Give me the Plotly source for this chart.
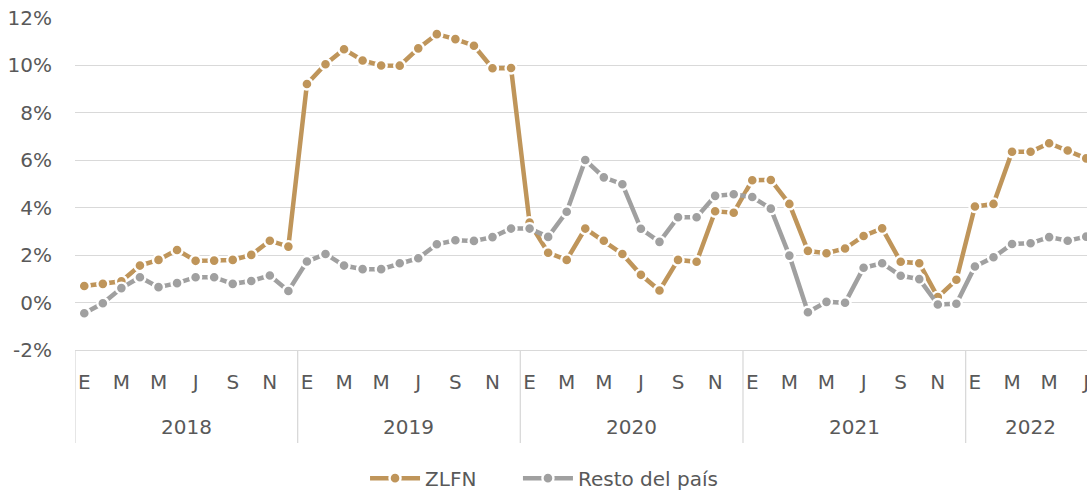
import plotly.graph_objects as go

years = ["2018", "2019", "2020", "2021", "2022"]
month_letters = ["E", "F", "M", "A", "M", "J", "J", "A", "S", "O", "N", "D"]
months_per_year = [12, 12, 12, 12, 7]

zlfn = [0.70, 0.79, 0.90, 1.56, 1.80, 2.22, 1.76, 1.77, 1.80, 2.01, 2.61, 2.36,
        9.22, 10.05, 10.68, 10.21, 10.00, 9.99, 10.72, 11.32, 11.11, 10.83, 9.88, 9.89,
        3.37, 2.10, 1.80, 3.12, 2.61, 2.05, 1.17, 0.51, 1.80, 1.72, 3.85, 3.79,
        5.16, 5.17, 4.16, 2.18, 2.08, 2.28, 2.81, 3.13, 1.72, 1.66, 0.23, 0.96,
        4.05, 4.16, 6.36, 6.36, 6.72, 6.41, 6.08]

resto = [-0.45, -0.03, 0.61, 1.07, 0.65, 0.82, 1.07, 1.07, 0.79, 0.91, 1.14, 0.49,
         1.73, 2.05, 1.56, 1.41, 1.41, 1.66, 1.87, 2.46, 2.63, 2.60, 2.76, 3.12,
         3.12, 2.77, 3.83, 6.01, 5.28, 4.99, 3.11, 2.56, 3.60, 3.60, 4.50, 4.57,
         4.45, 3.96, 1.98, -0.41, 0.03, -0.01, 1.47, 1.66, 1.13, 0.99, -0.08, -0.05,
         1.52, 1.91, 2.47, 2.50, 2.76, 2.61, 2.78]

y_ticks = [-2, 0, 2, 4, 6, 8, 10, 12]
y_tick_text = ["-2%", "0%", "2%", "4%", "6%", "8%", "10%", "12%"]

GOLD = "#BF955A"
GRAY = "#A0A0A0"
TEXT = "#595959"
GRID = "#D9D9D9"
FONT = "DejaVu Sans"

n = len(zlfn)
x_idx = list(range(n))
tick_vals = [i for i in x_idx if i % 2 == 0]
tick_text = [month_letters[i % 12] for i in tick_vals]

fig = go.Figure()
for name, vals, col, leg in [("ZLFN", zlfn, GOLD, "legend"),
                             ("Resto del país", resto, GRAY, "legend2")]:
    fig.add_trace(go.Scatter(
        x=x_idx, y=vals, name=name, mode="lines+markers", legend=leg,
        line=dict(color=col, width=4.5),
        marker=dict(color=col, size=11, line=dict(color="white", width=2.4)),
    ))

# year boundaries and labels
starts = []
s = 0
for m in months_per_year:
    starts.append(s)
    s += m
for yr, st, m in zip(years, starts, months_per_year):
    fig.add_shape(type="line", xref="x", yref="paper",
                  x0=st - 0.5, x1=st - 0.5, y0=0, y1=-0.28,
                  line=dict(color=GRID, width=1.3))
    fig.add_annotation(x=st - 0.5 + m / 2, y=-0.232, xref="x", yref="paper",
                       text=yr, showarrow=False, yanchor="middle",
                       font=dict(family=FONT, size=20, color=TEXT))

legend_common = dict(orientation="h", xanchor="left", y=-0.386, yanchor="middle",
                     font=dict(family=FONT, size=20, color=TEXT), itemwidth=50,
                     bgcolor="rgba(0,0,0,0)")

fig.update_layout(
    width=1087, height=491,
    margin=dict(l=75, r=0, t=18, b=141, autoexpand=False),
    paper_bgcolor="white", plot_bgcolor="white",
    font=dict(family=FONT, size=20, color=TEXT),
    showlegend=True,
    legend=dict(x=0.2866, **legend_common),
    legend2=dict(x=0.4377, **legend_common),
    xaxis=dict(range=[-0.5, 54.04], tickvals=tick_vals, ticktext=tick_text,
               showgrid=False, zeroline=False, showline=True, linecolor=GRID, linewidth=1.3,
               ticks="", ticklabelstandoff=14, ticklabeloverflow="allow", automargin=False,
               tickfont=dict(family=FONT, size=20, color=TEXT)),
    yaxis=dict(range=[-2, 12], tickvals=y_ticks, ticktext=y_tick_text,
               showgrid=True, gridcolor=GRID, gridwidth=1.3, zeroline=False,
               showline=False, ticks="", ticklabelstandoff=22, automargin=False,
               tickfont=dict(family=FONT, size=20, color=TEXT)),
)

fig.write_html("out.html", config={"displayModeBar": False},
               post_script="document.body.style.margin='0px';document.body.style.overflow='hidden';")
